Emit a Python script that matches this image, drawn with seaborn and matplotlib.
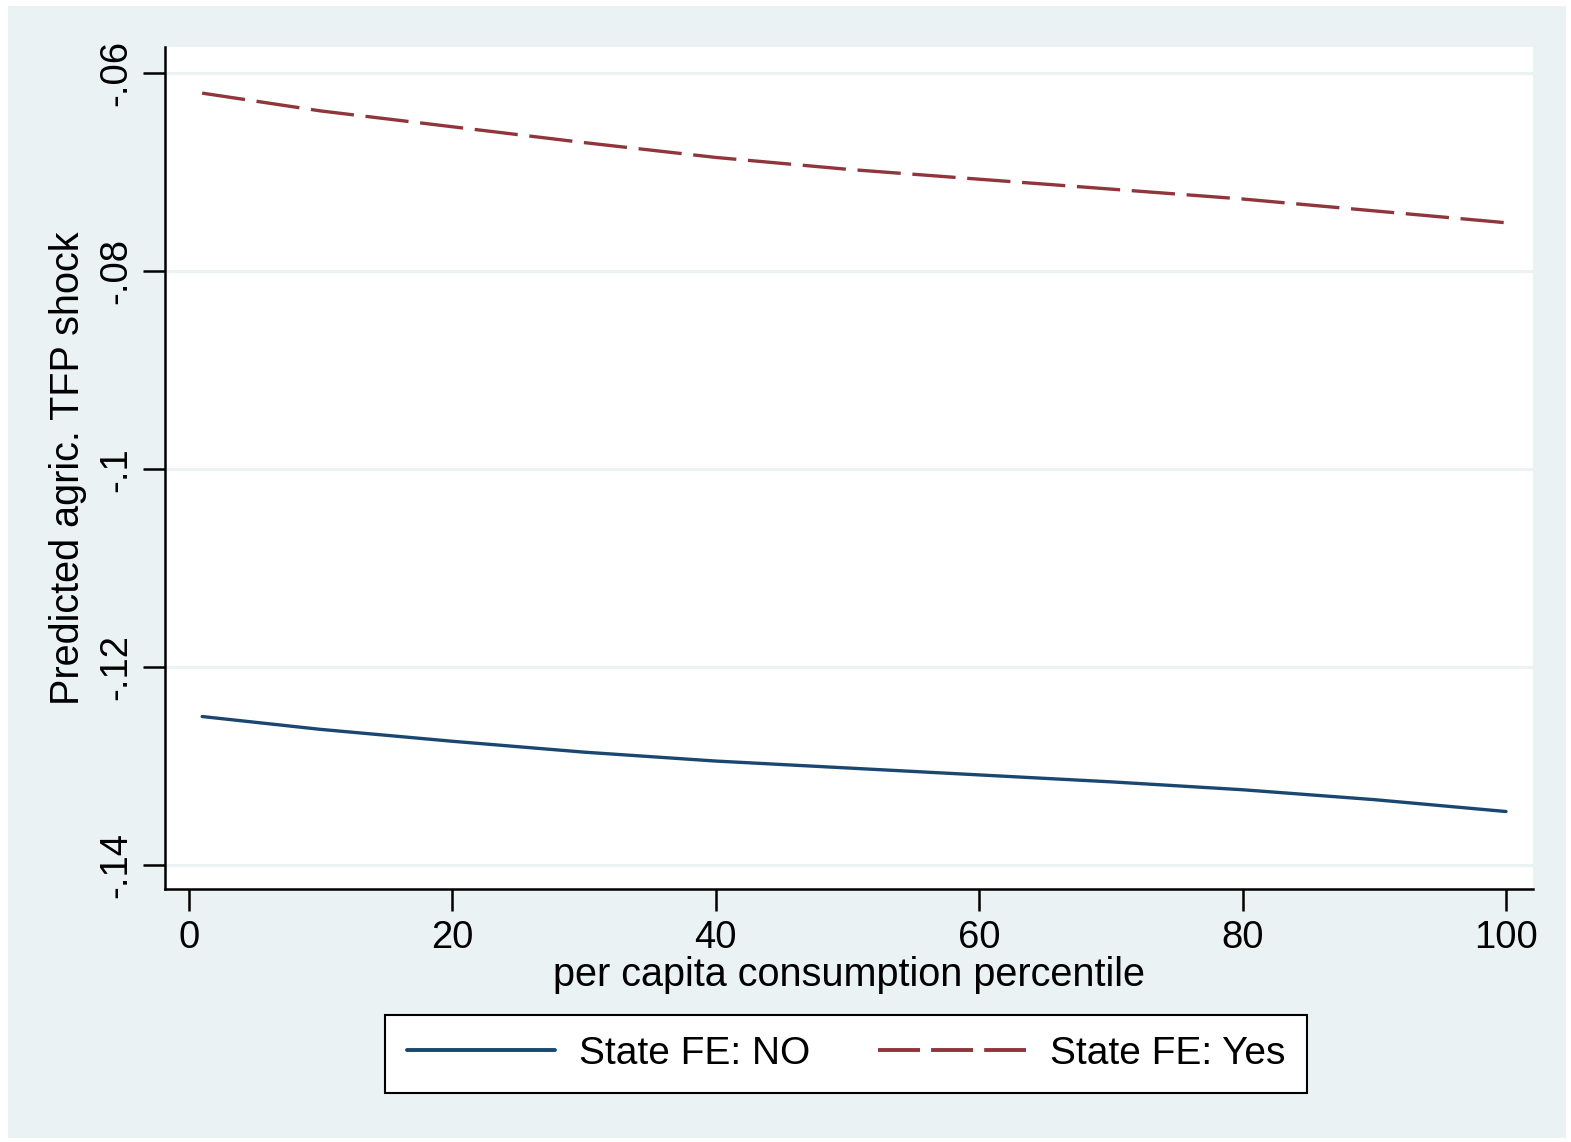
import pandas as pd
import seaborn as sns
import matplotlib.pyplot as plt
from matplotlib.patches import Rectangle

# Данные
percentile = [1, 10, 20, 30, 40, 50, 60, 70, 80, 90, 100]
fe_no = [-0.1250, -0.1263, -0.1275, -0.1286, -0.1295, -0.1302,
         -0.1309, -0.1316, -0.1324, -0.1334, -0.1346]
fe_yes = [-0.0620, -0.0638, -0.0654, -0.0670, -0.0685, -0.0697,
          -0.0707, -0.0717, -0.0727, -0.0739, -0.0751]
series_names = ["State FE: NO", "State FE: Yes"]
y_ticks = [-0.06, -0.08, -0.10, -0.12, -0.14]
y_tick_labels = ["-.06", "-.08", "-.1", "-.12", "-.14"]
x_ticks = [0, 20, 40, 60, 80, 100]

data = pd.DataFrame({
    "x": percentile * 2,
    "y": fe_no + fe_yes,
    "series": [series_names[0]] * len(percentile) + [series_names[1]] * len(percentile),
})

sns.set_style("white")
plt.rcParams["font.family"] = ["Liberation Sans", "DejaVu Sans"]
plt.rcParams["text.color"] = "black"
plt.rcParams["axes.labelcolor"] = "black"
plt.rcParams["xtick.color"] = "black"
plt.rcParams["ytick.color"] = "black"

bg = "#EAF2F3"
fig = plt.figure(figsize=(15.71, 11.42), dpi=100, facecolor="white")
fig.add_artist(Rectangle((8 / 1571, 4 / 1142), 1558 / 1571, 1132 / 1142,
                         transform=fig.transFigure, facecolor=bg,
                         edgecolor="none", zorder=-5))
ax = fig.add_axes([165 / 1571, 1 - 889 / 1142, (1533 - 165) / 1571, (889 - 47) / 1142])
ax.set_facecolor("white")

# светлые горизонтальные линии сетки, как в Stata
for t in y_ticks:
    ax.axhline(t, color=bg, lw=2.2, zorder=1)

sns.lineplot(
    ax=ax, data=data, x="x", y="y", hue="series", style="series",
    palette={series_names[0]: "#1A476F", series_names[1]: "#90353B"},
    dashes={series_names[0]: "", series_names[1]: (13, 3.5)},
    linewidth=2.4, zorder=3,
)

ax.set_xlim(-1.82, 102.05)
ax.set_ylim(-0.14243, -0.05734)
ax.set_xticks(x_ticks)
ax.set_yticks(y_ticks)
ax.set_yticklabels(y_tick_labels, rotation=90, va="center")
ax.tick_params(axis="both", bottom=True, left=True, labelsize=27.5, length=16,
               width=1.8, color="black", pad=6)
ax.tick_params(axis="x", pad=6)

for side in ["top", "right"]:
    ax.spines[side].set_visible(False)
for side in ["left", "bottom"]:
    ax.spines[side].set_color("black")
    ax.spines[side].set_linewidth(1.8)

ax.set_xlabel("per capita consumption percentile", fontsize=28.5, labelpad=0)
ax.set_ylabel("Predicted agric. TFP shock", fontsize=28.5, labelpad=8)

handles, labels = ax.get_legend_handles_labels()
leg = fig.legend(handles, labels, loc="center", bbox_to_anchor=(846 / 1571, 1 - 1054 / 1142),
                 ncol=2, fontsize=28, frameon=True, fancybox=False, handlelength=3.8,
                 handletextpad=0.62, columnspacing=1.75, borderpad=0.55,
                 framealpha=1, facecolor="white", edgecolor="black")
leg.get_frame().set_linewidth(1.5)
for line in leg.get_lines():
    line.set_linewidth(2.8)
leg.get_lines()[1].set_dashes((10.8, 2.85))
ax.get_legend().remove()

plt.savefig("out.png", dpi=100, facecolor="white")
